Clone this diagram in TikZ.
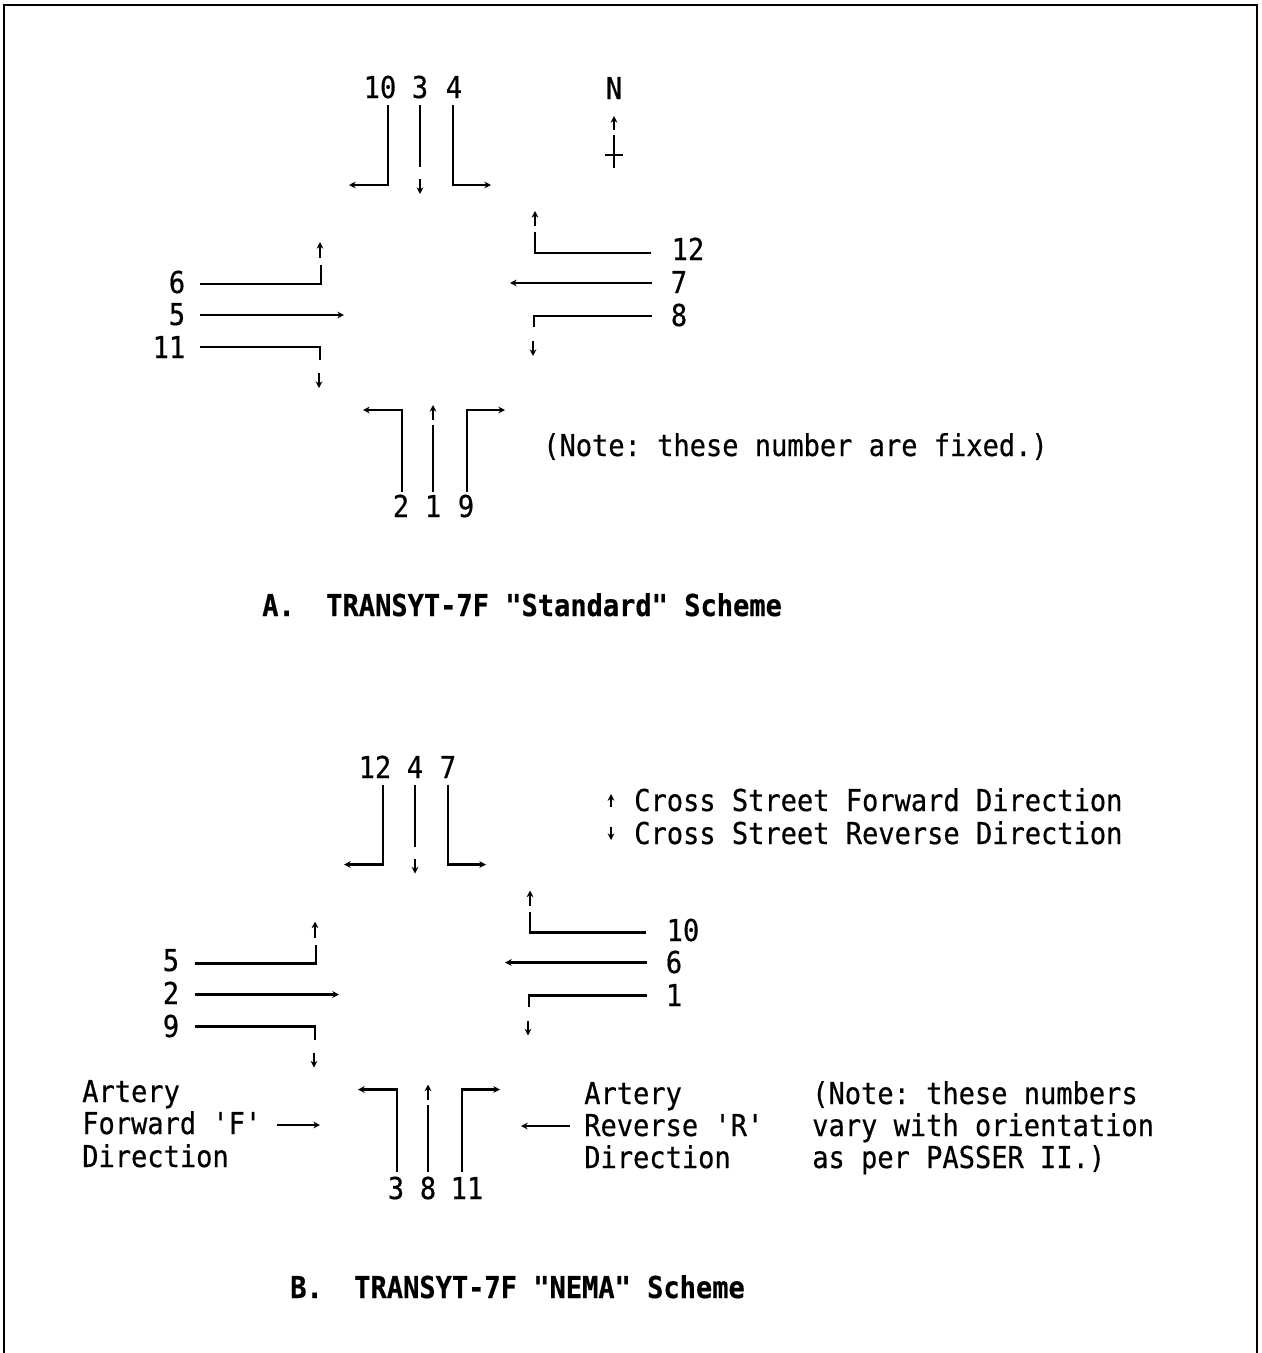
\documentclass[tikz,border=0pt]{standalone}
\usepackage{fontspec}
\usetikzlibrary{arrows.meta}
\frenchspacing
\newfontfamily\scanfont[FakeStretch=0.897,FakeBold=0.5]{DejaVu Sans Mono}
\newfontfamily\scanbold[FakeStretch=0.897,FakeBold=0.5]{DejaVu Sans Mono Bold}
\tikzset{
  lane/.style={line width=1.7pt,line cap=butt,line join=miter},
  tipped/.style={lane,-{Stealth[length=5pt,width=5pt]}},
  txt/.style={inner sep=0pt,text height=16.5pt,text depth=0pt,font=\fontsize{22.6}{24}\scanfont},
  num/.style={txt,anchor=center},
  lft/.style={txt,anchor=west},
  ttl/.style={txt,anchor=west,font=\fontsize{22.6}{24}\scanbold},
  frame/.style={line width=1.8pt}
}
% bent movement: start, bend, tip
\newcommand\bentlane[4]{%
  \coordinate (#1s) at (#2);\coordinate (#1b) at (#3);\coordinate (#1e) at (#4);
  \draw[tipped] (#1s) -- (#1b) -- (#1e);}
% straight line with tip
\newcommand\thrulane[3]{%
  \coordinate (#1s) at (#2);\coordinate (#1e) at (#3);
  \draw[tipped] (#1s) -- (#1e);}
% line, a gap, then a short arrow
\newcommand\gaplane[5]{%
  \coordinate (#1s) at (#2);\coordinate (#1b) at (#3);
  \coordinate (#1g) at (#4);\coordinate (#1e) at (#5);
  \draw[lane] (#1s) -- (#1b);
  \draw[tipped] (#1g) -- (#1e);}
\newcommand\gapbent[6]{%
  \coordinate (#1s) at (#2);\coordinate (#1b) at (#3);\coordinate (#1c) at (#4);
  \coordinate (#1g) at (#5);\coordinate (#1e) at (#6);
  \draw[lane] (#1s) -- (#1b) -- (#1c);
  \draw[tipped] (#1g) -- (#1e);}
\newcommand\intersection[1]{%
  \bentlane{#1nl}{388,105}{388,185}{349,185}
  \gaplane{#1nt}{420,105}{420,167}{420,179}{420,194}
  \bentlane{#1nr}{453,105}{453,185}{491,185}
  \gapbent{#1el}{651,253}{535,253}{535,232}{535,226}{535,211}
  \thrulane{#1et}{652,283}{510,283}
  \gapbent{#1er}{652,316}{534,316}{534,327}{533,341}{533,356}
  \gapbent{#1wl}{200,284}{321,284}{321,265}{320,258}{320,242}
  \thrulane{#1wt}{200,315}{344,315}
  \gapbent{#1wr}{200,347}{320,347}{320,360}{319,373}{319,388}
  \bentlane{#1sl}{402,492}{402,410}{363,410}
  \gaplane{#1st}{433,492}{433,425}{433,420}{433,405}
  \bentlane{#1sr}{467,492}{467,410}{505,410}}
\begin{document}
\begin{tikzpicture}[x=0.75pt,y=-0.75pt]
\useasboundingbox (0,0) rectangle (1262,1353);
\coordinate (fa) at (4,1353);\coordinate (fb) at (4,5);
\coordinate (fc) at (1257,5);\coordinate (fd) at (1257,1353);
\draw[frame] (fa) -- (fb) -- (fc) -- (fd);

% Scheme A
\begin{scope}\intersection{a}\end{scope}
\node[num] (a10) at (380,87) {10};
\node[num] (a3) at (420,87) {3};
\node[num] (a4) at (454,87) {4};
\node[num] (aN) at (614,88) {N};
\coordinate (ns1) at (614,130);\coordinate (ns2) at (614,116);
\draw[tipped] (ns1) -- (ns2);
\coordinate (ns3) at (614,135);\coordinate (ns4) at (614,168);
\draw[lane] (ns3) -- (ns4);
\coordinate (ns5) at (605,155);\coordinate (ns6) at (623,155);
\draw[lane] (ns5) -- (ns6);
\node[num] (a12) at (688,249) {12};
\node[num] (a7) at (679,282) {7};
\node[num] (a8) at (679,315) {8};
\node[num] (a6) at (177,282) {6};
\node[num] (a5) at (177,314) {5};
\node[num] (a11) at (169,347) {11};
\node[num] (a2) at (401,506) {2};
\node[num] (a1) at (433,506) {1};
\node[num] (a9) at (466,506) {9};
\node[lft] (anote) at (543,445) {(Note: these number are fixed.)};
\node[ttl] (atl) at (262,605) {A.};
\node[ttl] (attl) at (326,605) {TRANSYT-7F "Standard" Scheme};

% Scheme B
\begin{scope}[shift={(-5,679.5)}]\intersection{b}\end{scope}
\node[num] (b12) at (375,767) {12};
\node[num] (b4) at (415,767) {4};
\node[num] (b7) at (448,767) {7};
\coordinate (lf1) at (611,807);\coordinate (lf2) at (611,794);
\draw[tipped] (lf1) -- (lf2);
\node[lft] (lfw) at (634,800) {Cross Street Forward Direction};
\coordinate (lr1) at (611,827);\coordinate (lr2) at (611,840);
\draw[tipped] (lr1) -- (lr2);
\node[lft] (lrv) at (634,833) {Cross Street Reverse Direction};
\node[num] (b10) at (683,930) {10};
\node[num] (b6) at (674,962) {6};
\node[num] (b1) at (674,995) {1};
\node[num] (b5) at (171,960) {5};
\node[num] (b2) at (171,993) {2};
\node[num] (b9) at (171,1026) {9};
\node[num] (b3) at (396,1188) {3};
\node[num] (b8) at (428,1188) {8};
\node[num] (b11) at (467,1188) {11};
\node[lft] (af1) at (82,1091) {Artery};
\node[lft] (af2) at (82,1123) {Forward 'F'};
\node[lft] (af3) at (82,1156) {Direction};
\coordinate (afe) at (320,1125);
\draw[tipped] (af2.east) ++(15,2) -- (afe);
\node[lft] (ar1) at (584,1093) {Artery};
\node[lft] (ar2) at (584,1125) {Reverse 'R'};
\node[lft] (ar3) at (584,1157) {Direction};
\coordinate (are) at (521,1126);
\draw[tipped] (ar2.west) ++(-14,1) -- (are);
\node[lft] (bn1) at (812,1093) {(Note: these numbers};
\node[lft] (bn2) at (812,1125) {vary with orientation};
\node[lft] (bn3) at (812,1157) {as per PASSER II.)};
\node[ttl] (btl) at (290,1287) {B.};
\node[ttl] (bttl) at (354,1287) {TRANSYT-7F "NEMA" Scheme};
\end{tikzpicture}
\end{document}
